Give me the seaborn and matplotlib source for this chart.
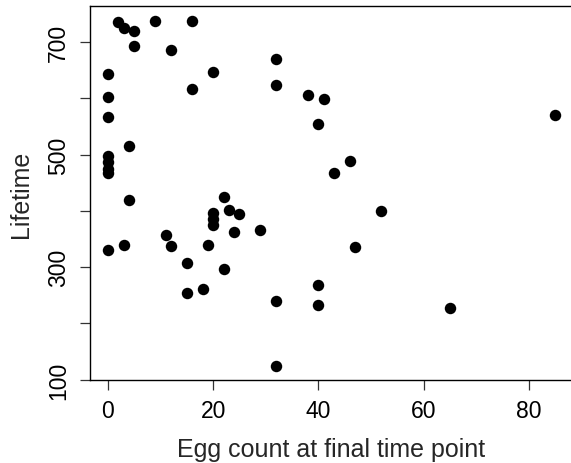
#%% Loading libraries
import seaborn as sns
import pandas as pd
import matplotlib
matplotlib.use("Agg")
import matplotlib.pyplot as plt

#%% Data
egg_count = [2, 3, 5, 9, 16, 5, 12, 0, 0, 0,
             4, 0, 0, 0, 0, 20, 16, 32, 32, 4,
             22, 20, 20, 20, 23, 25, 24, 29, 11, 0,
             3, 12, 19, 15, 22, 15, 18, 32, 32, 38,
             41, 40, 46, 43, 52, 85, 47, 40, 40, 65]
lifetime = [735, 725, 720, 738, 738, 693, 686, 644, 603, 566,
            515, 497, 487, 474, 467, 647, 617, 670, 624, 420,
            424, 397, 386, 375, 401, 394, 363, 366, 357, 330,
            340, 337, 340, 307, 296, 254, 261, 239, 124, 605,
            598, 555, 489, 467, 399, 570, 336, 268, 233, 227]
y_ticks = [100, 200, 300, 400, 500, 600, 700]
y_tick_labels = ["100", "", "300", "", "500", "", "700"]
x_ticks = [0, 20, 40, 60, 80]

data = pd.DataFrame({"Egg": egg_count, "Lifetime": lifetime})

#%% Theming
sns.set_style("ticks")
plt.rcParams['font.family'] = ['Liberation Sans', 'DejaVu Sans']

fig = plt.figure(figsize=(5.71, 4.64), dpi=100)
ax = fig.add_axes([0.1576, 0.1789, 1.0035 - 0.1576, 0.9849 - 0.1789])

sns.scatterplot(data=data, x="Egg", y="Lifetime", ax=ax,
                color="black", s=68, edgecolor="black", linewidth=0)

ax.set_xlim(-3.4, 88.4)
ax.set_ylim(99.5, 764)
ax.set_xticks(x_ticks)
ax.set_xticklabels([str(t) for t in x_ticks])
ax.set_yticks(y_ticks)
ax.set_yticklabels(y_tick_labels, rotation=90, va="center")

for side in ["left", "bottom", "top", "right"]:
    ax.spines[side].set_visible(True)
    ax.spines[side].set_color("black")
    ax.spines[side].set_linewidth(1.0)

ax.tick_params(axis="both", length=7.5, width=0.9, color="#333333",
               labelsize=16.5, labelcolor="black")
ax.tick_params(axis="x", pad=6)
ax.tick_params(axis="y", pad=7)

ax.set_xlabel("Egg count at final time point", fontsize=18, labelpad=11)
ax.set_ylabel("Lifetime", fontsize=18, labelpad=10)

plt.savefig("out.png", dpi=100)
